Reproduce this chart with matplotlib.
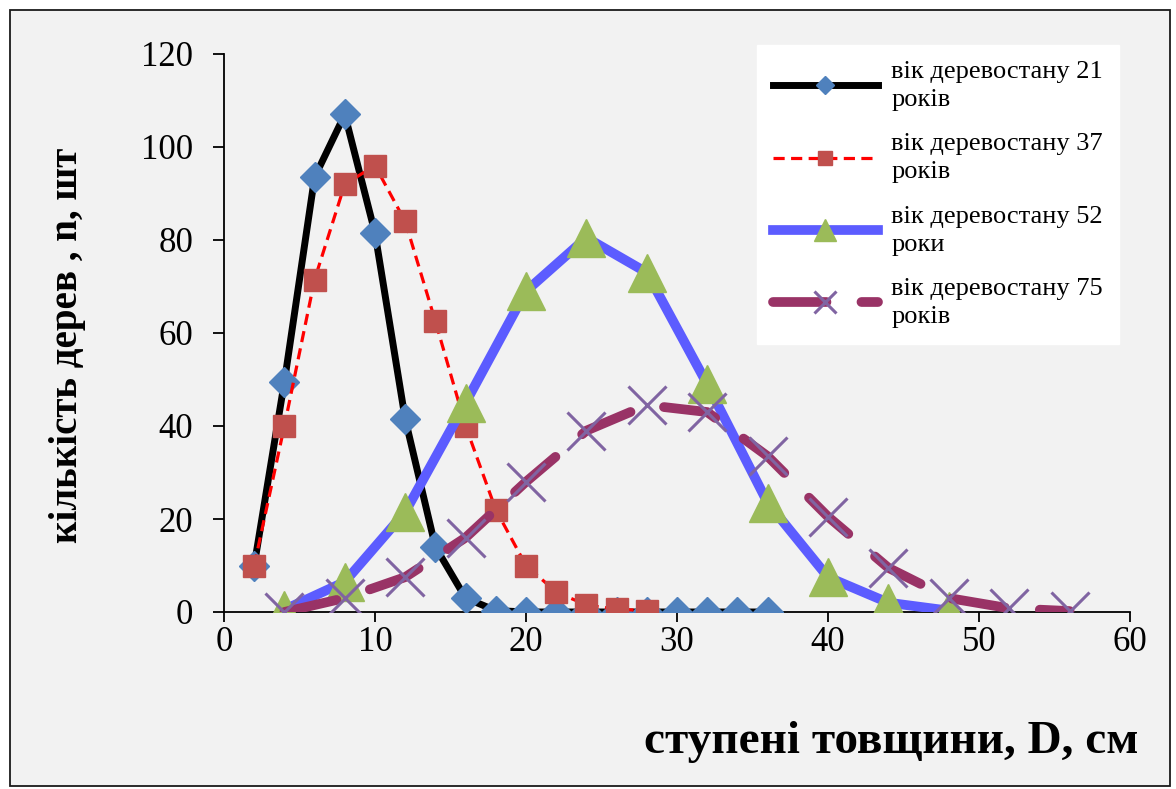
import matplotlib
matplotlib.use('Agg')

import matplotlib.pyplot as plt
from matplotlib.patches import Rectangle

plt.rcParams['font.family'] = ['Liberation Serif', 'DejaVu Serif']

# age 21
x21 = [2, 4, 6, 8, 10, 12, 14, 16, 18, 20, 22, 24, 26, 28, 30, 32, 34, 36]
y21 = [10, 49.5, 93.5, 107, 81.5, 41.5, 14, 3, 0.3, 0, 0, 0, 0, 0, 0, 0, 0, 0]

# age 37
x37 = [2, 4, 6, 8, 10, 12, 14, 16, 18, 20, 22, 24, 26, 28]
y37 = [10, 40, 71.5, 92, 96, 84, 62.5, 40, 22, 10, 4.3, 1.5, 0.6, 0.3]

# age 52
x52 = [4, 8, 12, 16, 20, 24, 28, 32, 36, 40, 44, 48]
y52 = [0.5, 6.5, 21.5, 45, 69, 80.5, 73, 49, 23.5, 7.5, 2, 0.3]

# age 75
x75 = [4, 8, 12, 16, 20, 24, 28, 32, 36, 40, 44, 48, 52, 56]
y75 = [0, 3, 7.5, 16, 28, 39, 44.5, 43, 33.5, 20.5, 9.5, 3, 0.8, 0.2]

labels = ['вік деревостану 21\nроків', 'вік деревостану 37\nроків',
          'вік деревостану 52\nроки', 'вік деревостану 75\nроків']

fig = plt.figure(figsize=(11.76, 7.89), dpi=100)
fig.patch.set_facecolor('white')
frame = Rectangle((10/1176, 3/789), 1160/1176, 776/789, transform=fig.transFigure,
                  facecolor='#f2f2f2', edgecolor='#1a1a1a', linewidth=1.3, zorder=-10)
fig.patches.append(frame)

ax = fig.add_axes([224/1176, 1 - 612/789, 906/1176, 558/789])
ax.set_facecolor('#f2f2f2')

ax.plot(x21, y21, color='black', lw=5, marker='D', ms=15, mfc='#4f81bd', mec='#4f81bd',
        solid_joinstyle='round', label=labels[0], zorder=3)
ax.plot(x37, y37, color='#ff0000', lw=2.3, ls=(0, (3.5, 2)), marker='s', ms=16,
        mfc='#c0504d', mec='#c0504d', label=labels[1], zorder=4)
ax.plot(x52, y52, color='#5c5cff', lw=7, marker='^', ms=27, mfc='#9bbb59', mec='#9bbb59',
        solid_joinstyle='round', label=labels[2], zorder=5)
ax.plot(x75, y75, color='#993366', lw=7, dashes=(5.5, 3.6), dash_capstyle='round',
        marker='x', ms=27, mew=2.2, mec='#8064a2', label=labels[3], zorder=6)

ax.set_xlim(0, 60)
ax.set_ylim(0, 120)
ax.set_xticks(range(0, 61, 10))
ax.set_yticks(range(0, 121, 20))
ax.spines['top'].set_visible(False)
ax.spines['right'].set_visible(False)
ax.spines['left'].set_linewidth(1.3)
ax.spines['bottom'].set_linewidth(1.3)
ax.tick_params(axis='both', labelsize=25, width=1.3, direction='out')
ax.tick_params(axis='y', length=8, pad=14)
ax.tick_params(axis='x', length=7, pad=3)

leg = ax.legend(loc='upper left', bbox_to_anchor=(0.588, 1.016), fontsize=19,
                frameon=True, fancybox=False, framealpha=1, edgecolor='white',
                handlelength=4.0, handletextpad=0.5, labelspacing=0.85,
                borderpad=0.6, borderaxespad=0, markerscale=0.6)
leg.get_frame().set_facecolor('white')
for t in leg.get_texts():
    t.set_linespacing(1.35)
leg.set_zorder(10)

fig.text(68/1176, 1 - 345/789, 'кількість дерев , n, шт', rotation=90, fontsize=28,
         fontweight='bold', ha='center', va='center')
fig.text(891/1176, 1 - 742/789, 'ступені товщини, D, см', fontsize=34,
         fontweight='bold', ha='center', va='center')

fig.savefig('out.png', dpi=100, facecolor=fig.get_facecolor())
